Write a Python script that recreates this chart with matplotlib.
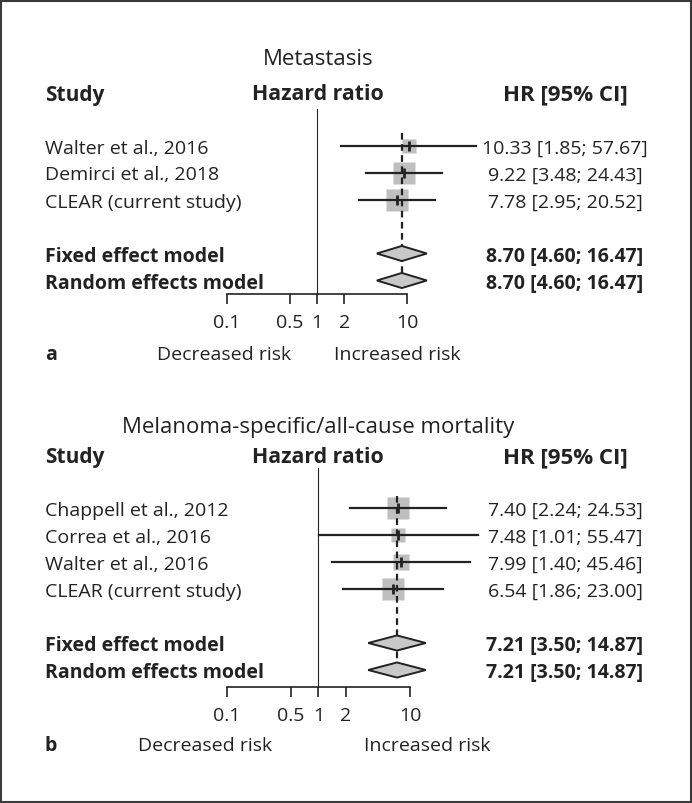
import matplotlib
matplotlib.use("Agg")
import matplotlib.pyplot as plt
import matplotlib.transforms as mtransforms
from matplotlib.patches import Polygon, Rectangle
from matplotlib.ticker import NullLocator

plt.rcParams['font.family'] = ['Open Sans', 'DejaVu Sans']

# ---- data: panel a (metastasis)
title_a = "Metastasis"
studies_a = ["Walter et al., 2016", "Demirci et al., 2018", "CLEAR (current study)"]
hr_a = [10.33, 9.22, 7.78]
lo_a = [1.85, 3.48, 2.95]
hi_a = [57.67, 24.43, 20.52]
weight_a = [0.6, 1.0, 1.0]          # relative box size
pooled_a = [8.70, 4.60, 16.47]      # HR, lower, upper (fixed = random)

# ---- data: panel b (melanoma-specific / all-cause mortality)
title_b = "Melanoma-specific/all-cause mortality"
studies_b = ["Chappell et al., 2012", "Correa et al., 2016", "Walter et al., 2016",
             "CLEAR (current study)"]
hr_b = [7.40, 7.48, 7.99, 6.54]
lo_b = [2.24, 1.01, 1.40, 1.86]
hi_b = [24.53, 55.47, 45.46, 23.00]
weight_b = [1.0, 0.65, 0.7, 0.95]
pooled_b = [7.21, 3.50, 14.87]

models = ["Fixed effect model", "Random effects model"]
ticks = [0.1, 0.5, 1, 2, 10]
tick_labels = ["0.1", "0.5", "1", "2", "10"]

W, H = 692, 804
PITCH = 27.0
INK = '#222222'

fig = plt.figure(figsize=(W / 100, H / 100), dpi=100)


def forest(title, studies, hr, lo, hi, weight, pooled, letter,
           first_px, axis_px, x01_px, x10_px, title_row, ref_top, lab_row, left_px, right_px):
    n = len(studies)
    row0_px = first_px - PITCH
    axis_row = (axis_px - row0_px) / PITCH
    ax = fig.add_axes([x01_px / W, 1 - axis_px / H, (x10_px - x01_px) / W, (axis_px - row0_px) / H])
    ax.set_xscale('log')
    ax.set_xlim(0.1, 10)
    ax.set_ylim(axis_row, 0)
    ax.patch.set_visible(False)
    for s in ['top', 'left', 'right']:
        ax.spines[s].set_visible(False)
    ax.spines['bottom'].set_linewidth(1.2)
    ax.spines['bottom'].set_color(INK)
    ax.set_yticks([])
    ax.set_xticks(ticks)
    ax.set_xticklabels(tick_labels)
    ax.xaxis.set_minor_locator(NullLocator())
    ax.tick_params(axis='x', direction='out', length=7.2, width=1.2, pad=6,
                   labelsize=14, colors=INK)

    rows = list(range(1, n + 1))
    prow = [n + 2, n + 3]

    # reference line at HR = 1 and pooled estimate line
    ax.plot([1, 1], [ref_top, axis_row], color=INK, lw=0.8, clip_on=False, zorder=1)
    ax.plot([pooled[0], pooled[0]], [0.55, prow[1]], color=INK, lw=1.6, ls='--',
            dashes=(3, 2), clip_on=False, zorder=3)

    for i in range(n):
        ax.plot(hr[i], rows[i], marker='s', ms=16.5 * weight[i], mfc='#bfbfbf',
                mec='none', clip_on=False, zorder=2)
        ax.plot([lo[i], hi[i]], [rows[i], rows[i]], color=INK, lw=1.6,
                clip_on=False, zorder=3)
        ax.plot(hr[i], rows[i], marker='|', ms=7, mew=2, color=INK,
                clip_on=False, zorder=4)

    for r in prow:
        d = Polygon([(pooled[1], r), (pooled[0], r - 0.28), (pooled[2], r),
                     (pooled[0], r + 0.28)], closed=True, facecolor='#c8c8c8',
                    edgecolor=INK, lw=1.4, zorder=5, clip_on=False)
        ax.add_patch(d)

    tr = mtransforms.blended_transform_factory(fig.transFigure, ax.transData)
    kw = dict(transform=tr, va='center_baseline', color=INK, fontsize=14)
    xl, xm, xr = 45 / W, 318 / W, 565 / W

    ax.text(xm, title_row, title, ha='center', **{**kw, 'fontsize': 16})
    ax.text(xl, -1, "Study", ha='left', fontweight='bold', **{**kw, 'fontsize': 15})
    ax.text(xm, -1, "Hazard ratio", ha='center', fontweight='bold', **{**kw, 'fontsize': 15.3})
    ax.text(xr, -1, "HR [95% CI]", ha='center', fontweight='bold', **{**kw, 'fontsize': 16})

    for i in range(n):
        ax.text(xl, rows[i], studies[i], ha='left', **kw)
        ax.text(xr, rows[i], f"{hr[i]:.2f} [{lo[i]:.2f}; {hi[i]:.2f}]", ha='center', **kw)
    for j, r in enumerate(prow):
        ax.text(xl, r, models[j], ha='left', fontweight='bold', **kw)
        ax.text(xr, r, f"{pooled[0]:.2f} [{pooled[1]:.2f}; {pooled[2]:.2f}]",
                ha='center', fontweight='bold', **kw)

    ax.text(xl, lab_row, letter, ha='left', fontweight='bold', **kw)
    ax.text(left_px / W, lab_row, "Decreased risk", ha='center', **kw)
    ax.text(right_px / W, lab_row, "Increased risk", ha='center', **kw)
    return ax


forest(title_a, studies_a, hr_a, lo_a, hi_a, weight_a, pooled_a, "a",
       first_px=146.5, axis_px=295.3, x01_px=226.7, x10_px=407.3,
       title_row=-2.32, ref_top=-0.35, lab_row=8.63, left_px=224, right_px=397)

forest(title_b, studies_b, hr_b, lo_b, hi_b, weight_b, pooled_b, "b",
       first_px=509.0, axis_px=688.3, x01_px=226.7, x10_px=410.0,
       title_row=-2.11, ref_top=-0.47, lab_row=9.7, left_px=205, right_px=427)

# frame around the whole figure
fig.patches.append(Rectangle((1.5 / W, 1.5 / H), 1 - 3 / W, 1 - 3 / H, transform=fig.transFigure,
                             fill=False, lw=1.5, edgecolor='#3a3a3a'))

fig.savefig("out.png", dpi=100)
